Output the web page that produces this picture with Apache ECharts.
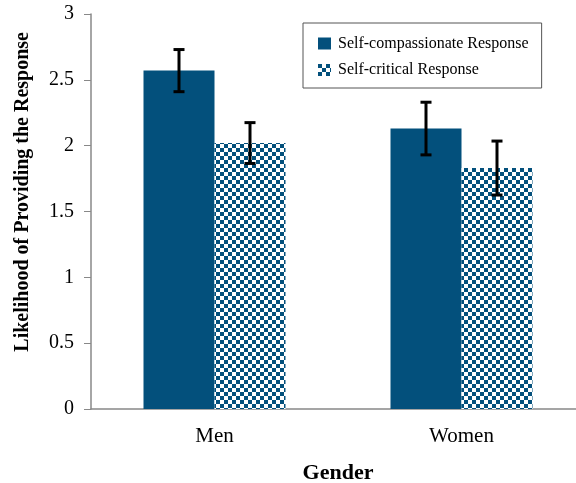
<!DOCTYPE html>
<html>
<head>
<meta charset="utf-8">
<script src="https://cdn.jsdelivr.net/npm/echarts@6/dist/echarts.min.js"></script>
<style>html,body{margin:0;padding:0;background:#fff}#chart{width:576px;height:483px}</style>
</head>
<body>
<div id="chart"></div>
<script>
// Group labels and the two response types
const categories = ['Men', 'Women'];
const seriesNames = ['Self-compassionate Response', 'Self-critical Response'];
// Mean likelihood per group
const compassionate = [2.57, 2.13];
const critical = [2.02, 1.83];
// Half-width of the error bars
const compassionateErr = [0.16, 0.20];
const criticalErr = [0.155, 0.205];
const yTicks = [0, 0.5, 1, 1.5, 2, 2.5, 3];

const BLUE = '#03507c';
const FONT = '"Liberation Serif", "Times New Roman", serif';

// Checkerboard fill for the self-critical bars
function checker(cell) {
  const c = document.createElement('canvas');
  c.width = cell * 2; c.height = cell * 2;
  const g = c.getContext('2d');
  g.fillStyle = '#fff'; g.fillRect(0, 0, cell * 2, cell * 2);
  g.fillStyle = BLUE;
  g.fillRect(0, 0, cell, cell);
  g.fillRect(cell, cell, cell, cell);
  return { image: c, repeat: 'repeat' };
}
const checkFill = checker(4);

// Error bars drawn on top of each bar, offset to the bar's centre
function errorSeries(means, errs, offset) {
  return {
    type: 'custom',
    z: 10,
    data: means.map((m, i) => [i, m - errs[i], m + errs[i]]),
    renderItem(params, api) {
      const x = api.value(0);
      const lo = api.coord([x, api.value(1)]);
      const hi = api.coord([x, api.value(2)]);
      const cx = lo[0] + offset;
      const cap = 5.5;
      const style = { stroke: '#000', lineWidth: 3 };
      return {
        type: 'group',
        children: [
          { type: 'line', shape: { x1: cx, y1: hi[1], x2: cx, y2: lo[1] }, style },
          { type: 'line', shape: { x1: cx - cap, y1: hi[1], x2: cx + cap, y2: hi[1] }, style },
          { type: 'line', shape: { x1: cx - cap, y1: lo[1], x2: cx + cap, y2: lo[1] }, style }
        ]
      };
    }
  };
}

const chart = echarts.init(document.getElementById('chart'), null, { renderer: 'canvas' });
chart.setOption({
  animation: false,
  textStyle: { fontFamily: FONT },
  grid: { left: 91, right: -9, top: 14, bottom: 74, outerBoundsMode: 'none', containLabel: false },
  legend: {
    left: 303, top: 23,
    orient: 'vertical',
    icon: 'rect',
    itemWidth: 13, itemHeight: 12, itemGap: 10.5,
    padding: [12.5, 13, 10, 15],
    borderColor: '#555', borderWidth: 1,
    textStyle: { fontFamily: FONT, fontSize: 16, lineHeight: 16, color: '#000', padding: [0, 0, 0, 2] },
    data: seriesNames
  },
  xAxis: {
    type: 'category',
    data: categories,
    axisLine: { lineStyle: { color: '#888', width: 1.5 } },
    axisTick: { lineStyle: { color: '#888' }, length: 7 },
    axisLabel: { fontFamily: FONT, fontSize: 21, color: '#000', margin: 17 },
    name: 'Gender',
    nameLocation: 'middle',
    nameGap: 53,
    nameTextStyle: { fontFamily: FONT, fontSize: 22, fontWeight: 'bold', color: '#000' }
  },
  yAxis: {
    type: 'value',
    min: yTicks[0], max: yTicks[yTicks.length - 1], interval: 0.5,
    axisLine: { show: true, lineStyle: { color: '#888', width: 1.5 } },
    axisTick: { show: true, lineStyle: { color: '#888' }, length: 7 },
    splitLine: { show: false },
    axisLabel: { fontFamily: FONT, fontSize: 20, color: '#000', margin: 17 }
  },
  graphic: [{
    type: 'text',
    left: 13, top: 32,
    rotation: Math.PI / 2,
    style: {
      text: 'Likelihood of Providing the Response',
      font: 'bold 20px ' + FONT,
      fill: '#000'
    }
  }],
  series: [
    {
      name: seriesNames[0], type: 'bar', data: compassionate,
      barWidth: 71, barGap: '0%',
      itemStyle: { color: BLUE }
    },
    {
      name: seriesNames[1], type: 'bar', data: critical,
      barWidth: 71, barGap: '0%',
      itemStyle: { color: checkFill }
    },
    errorSeries(compassionate, compassionateErr, -35.5),
    errorSeries(critical, criticalErr, 35.5)
  ]
});
</script>
</body>
</html>
